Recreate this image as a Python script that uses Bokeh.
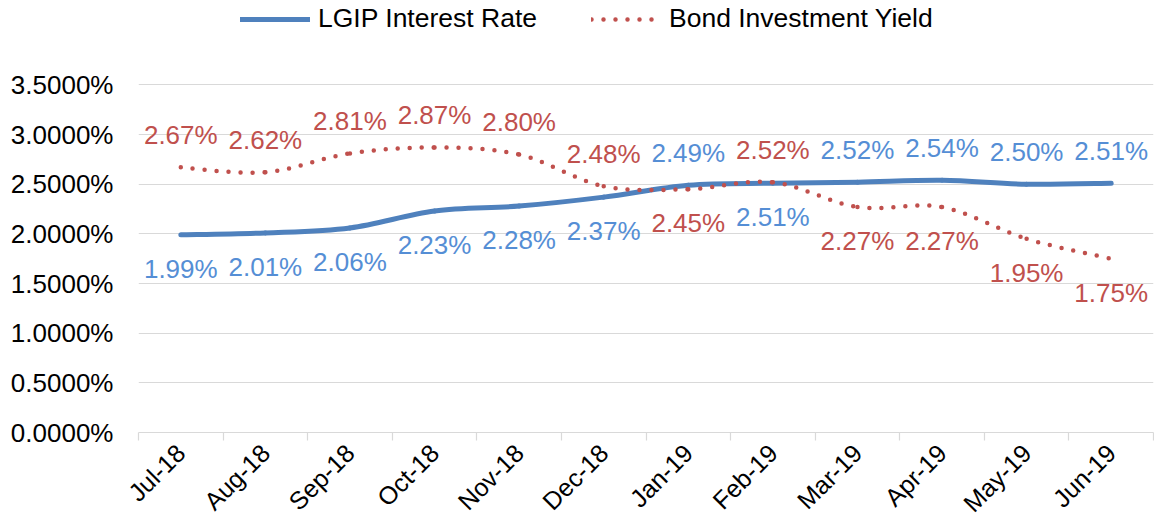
import math
from bokeh.plotting import figure
from bokeh.models import Range1d, FixedTicker, Legend, LegendItem
from bokeh.embed import file_html
from bokeh.resources import INLINE
from bokeh.core.properties import value

months = ["Jul-18", "Aug-18", "Sep-18", "Oct-18", "Nov-18", "Dec-18",
          "Jan-19", "Feb-19", "Mar-19", "Apr-19", "May-19", "Jun-19"]
lgip = [1.99, 2.01, 2.06, 2.23, 2.28, 2.37, 2.49, 2.51, 2.52, 2.54, 2.50, 2.51]
bond = [2.67, 2.62, 2.81, 2.87, 2.80, 2.48, 2.45, 2.52, 2.27, 2.27, 1.95, 1.75]
lgip_label_side = ["below"] * 6 + ["above", "below", "above", "above", "above", "above"]
bond_label_side = ["above"] * 6 + ["below", "above", "below", "below", "below", "below"]
y_ticks = [0.0, 0.5, 1.0, 1.5, 2.0, 2.5, 3.0, 3.5]

FONT = "Liberation Sans"
BLUE = "#4F81BD"
BLUE_LABEL = "#558ED5"
RED = "#C0504D"
GRID = "#D9D9D9"

xs = list(range(len(months)))

# frame reaches the top of the figure so that the legend can sit inside it
p = figure(width=1154, height=530, output_backend="svg", toolbar_location=None,
           x_range=Range1d(-0.5, len(months) - 0.5), y_range=Range1d(0, 4.35),
           min_border_left=138, min_border_right=1, min_border_top=0,
           min_border_bottom=96)
p.outline_line_color = None
p.background_fill_color = "white"
p.border_fill_color = "white"


def smooth_segments(x, y):
    n = len(x)
    out = dict(x0=[], y0=[], x1=[], y1=[], cx0=[], cy0=[], cx1=[], cy1=[])
    for i in range(n - 1):
        a = max(i - 1, 0)
        d = min(i + 2, n - 1)
        out["x0"].append(x[i]); out["y0"].append(y[i])
        out["x1"].append(x[i + 1]); out["y1"].append(y[i + 1])
        out["cx0"].append(x[i] + (x[i + 1] - x[a]) / 6.0)
        out["cy0"].append(y[i] + (y[i + 1] - y[a]) / 6.0)
        out["cx1"].append(x[i + 1] - (x[d] - x[i]) / 6.0)
        out["cy1"].append(y[i + 1] - (y[d] - y[i]) / 6.0)
    return out


sb = smooth_segments(xs, lgip)
p.bezier(x0=sb["x0"], y0=sb["y0"], x1=sb["x1"], y1=sb["y1"],
         cx0=sb["cx0"], cy0=sb["cy0"], cx1=sb["cx1"], cy1=sb["cy1"],
         line_color=BLUE, line_width=5, line_cap="round")
sr = smooth_segments(xs, bond)
p.bezier(x0=sr["x0"], y0=sr["y0"], x1=sr["x1"], y1=sr["y1"],
         cx0=sr["cx0"], cy0=sr["cy0"], cx1=sr["cx1"], cy1=sr["cy1"],
         line_color=RED, line_width=4.5, line_cap="round", line_dash="0 12")

# legend proxies
lb = p.line(xs, lgip, line_color=BLUE, line_width=5, line_cap="round", visible=False)
lr = p.line(xs, bond, line_color=RED, line_width=4.5, line_cap="round",
            line_dash="0 12", visible=False)


def offs(sides):
    return [-32 if s == "above" else 34 for s in sides]


lbl_b = [f"{v:.2f}%" for v in lgip]
lbl_r = [f"{v:.2f}%" for v in bond]
p.text(x=xs, y=lgip, text=lbl_b, y_offset=offs(lgip_label_side),
       text_align="center", text_baseline="middle", text_color=BLUE_LABEL,
       text_font=value(FONT), text_font_size="26px")
p.text(x=xs, y=bond, text=lbl_r, y_offset=offs(bond_label_side),
       text_align="center", text_baseline="middle", text_color=RED,
       text_font=value(FONT), text_font_size="26px")

# grid and y axis
p.xgrid.visible = False
p.ygrid.ticker = FixedTicker(ticks=y_ticks)
p.ygrid.grid_line_color = GRID
p.ygrid.grid_line_width = 1.2

ya = p.yaxis[0]
ya.ticker = FixedTicker(ticks=y_ticks)
ya.major_label_overrides = {t: f"{t:.4f}%" for t in y_ticks}
ya.axis_line_color = None
ya.major_tick_line_color = None
ya.minor_tick_line_color = None
ya.major_tick_out = 0
ya.major_tick_in = 0
ya.major_label_standoff = 25
ya.major_label_text_font = FONT
ya.major_label_text_font_size = "26px"
ya.major_label_text_color = "black"

# x axis: tick marks between categories, labels at category centres
xa = p.xaxis[0]
xa.ticker = FixedTicker(ticks=xs, minor_ticks=[i - 0.5 for i in range(len(months) + 1)])
xa.major_label_overrides = {i: m for i, m in enumerate(months)}
xa.axis_line_color = GRID
xa.axis_line_width = 1.2
xa.major_tick_line_color = None
xa.major_tick_out = 0
xa.major_tick_in = 0
xa.minor_tick_line_color = GRID
xa.minor_tick_line_width = 1.2
xa.minor_tick_out = 8
xa.minor_tick_in = 0
xa.major_label_orientation = math.pi / 4
xa.major_label_standoff = 8
xa.major_label_text_font = FONT
xa.major_label_text_font_size = "25px"
xa.major_label_text_color = "black"

legend = Legend(items=[LegendItem(label="LGIP Interest Rate", renderers=[lb]),
                       LegendItem(label="Bond Investment Yield", renderers=[lr])],
                orientation="horizontal", location=(102, 398),
                glyph_width=70, glyph_height=30, label_height=30,
                label_standoff=8, spacing=54, padding=0, margin=0,
                border_line_color=None, background_fill_alpha=0,
                label_text_font=FONT, label_text_font_size="26.5px",
                label_text_color="black")
p.add_layout(legend, "center")

open("out.html", "w").write(file_html(p, INLINE))
